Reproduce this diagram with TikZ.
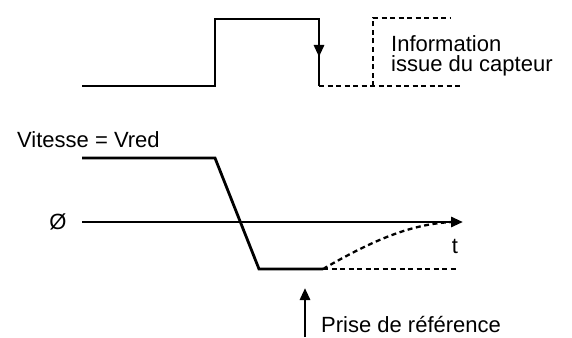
\documentclass[tikz,border=0pt]{standalone}
\usepackage{fontspec}
\setmainfont{Liberation Sans}
\usetikzlibrary{arrows.meta}

\tikzset{
  sig/.style={line width=2.8pt,line join=miter},
  trace/.style={line width=2.3pt,dash pattern=on 5pt off 3.5pt},
  lbl/.style={font=\fontsize{22}{20}\selectfont,inner sep=0pt},
}

\begin{document}
\begin{tikzpicture}[x=1pt,y=-1pt,>={Triangle[length=12pt,width=10pt]}]
  \useasboundingbox (0,0) rectangle (572,337);
  % signal capteur
  \coordinate (s0) at (82,86);
  \coordinate (s1) at (215,86);
  \coordinate (s2) at (215,19);
  \coordinate (s3) at (319,19);
  \coordinate (s4) at (319,57);
  \coordinate (s5) at (319,86);
  \coordinate (d0) at (460,86);
  \coordinate (b0) at (373,86);
  \coordinate (b1) at (373,18);
  \coordinate (b2) at (450,18);
  \draw[sig] (s0) -- (s1) -- (s2) -- (s3) -- (s4) -- (s5);
  \draw[sig,->] (s3) -- (s4);
  \draw[trace] (s5) -- (d0);
  \draw[trace] (b0) -- (b1) -- (b2);
  \node[lbl,anchor=west,align=left] (info) at (391,56) {Information\\issue du capteur};

  % vitesse
  \node[lbl,anchor=west] (vit) at (17,140) {Vitesse = Vred};
  \node[lbl] (zero) at (58,222) {Ø};
  \coordinate (a0) at (82,222);
  \coordinate (a1) at (463,222);
  \draw[sig,->] (a0) -- (a1);
  \node[lbl] (t) at (455,246) {t};
  \coordinate (v0) at (82,158);
  \coordinate (v1) at (215,158);
  \coordinate (v2) at (259,269);
  \coordinate (v3) at (323,269);
  \coordinate (v4) at (458,269);
  \coordinate (v5) at (452,222);
  \draw[sig] (v0) -- (v1) -- (v2) -- (v3);
  \draw[trace] (v3) -- (v4);
  \draw[trace] (v3) .. controls (375,239) and (412,224) .. (v5);

  % prise de reference
  \coordinate (r0) at (305,337);
  \coordinate (r1) at (305,288);
  \draw[sig,->] (r0) -- (r1);
  \node[lbl,anchor=west] (prise) at (321,325) {Prise de référence};
\end{tikzpicture}
\end{document}
